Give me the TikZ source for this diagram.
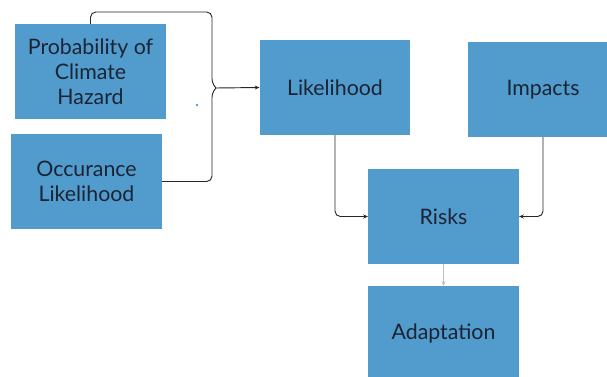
\documentclass[tikz,border=0pt]{standalone}
\usepackage{fontspec}
\setmainfont{Lato}
\usepackage{xcolor}
\usetikzlibrary{arrows.meta,positioning,calc}
\definecolor{boxblue}{RGB}{82,155,205}
\definecolor{textnavy}{RGB}{27,36,52}
\colorlet{arrowcolor}{black!85}
\colorlet{softarrow}{black!25}

\begin{document}
\begin{tikzpicture}[x=0.75pt, y=0.75pt,
  box/.style={rectangle, fill=boxblue, minimum width=113pt, minimum height=71pt,
              inner sep=0pt, align=center, text=textnavy,
              font=\fontsize{16}{18.8}\selectfont},
  arr/.style={-{Stealth[length=3.5pt,width=3pt]}, line width=0.7pt, color=arrowcolor,
              rounded corners=4pt},
  softarr/.style={-{Stealth[length=3.5pt,width=3pt]}, line width=0.7pt, color=softarrow}
]
\useasboundingbox (0,0) rectangle (607,376);
\clip (0,0) rectangle (607,376);

\node[box] (prob) at (90.5,304.5) {Probability of\\Climate\\Hazard};
\node[box] (occ) at (86.5,194.5) {Occurance\\Likelihood};
\node[box] (likeli) at (335,288.5) {Likelihood};
\node[box] (impacts) at (543,286.5) {Impacts};
\node[box] (risks) at (443.5,159.5) {Risks};
\node[box] (adapt) at (443.5,42.5) {Adaptation};

% brace joining the two inputs
\coordinate (join) at (216,288);
\coordinate (top) at (212,364);
\draw[line width=0.7pt, color=arrowcolor, rounded corners=4pt]
  (prob.north) |- (top) -- ($(join)+(-4,4)$) -- (join);
\draw[line width=0.7pt, color=arrowcolor, rounded corners=4pt]
  (occ.east) -| ($(join)+(-4,-4)$) -- (join);
\draw[arr] (join) -- (likeli.west);

\draw[arr] (likeli.south) |- (risks.west);
\draw[arr] (impacts.south) |- (risks.east);
\draw[softarr] (risks.south) -- (adapt.north);

\fill[boxblue] (197,271) circle (1.3);
\end{tikzpicture}
\end{document}
